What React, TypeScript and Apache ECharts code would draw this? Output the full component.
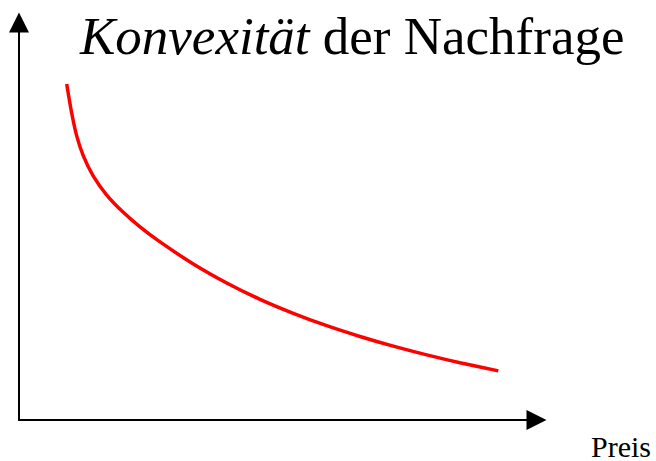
import React, { useEffect, useRef } from "react";
import * as echarts from "echarts";

// Demand curve (x: price units 0..100, y: quantity units 0..100)
const priceValues = [9.22, 10.18, 11.15, 12.43, 14.36, 16.95, 20.15, 23.38, 27.25, 33.68, 40.14, 46.57, 53.0, 59.46, 65.89, 72.33, 78.78, 85.22, 92.62];
const demandValues = [84.53, 77.23, 71.47, 66.44, 61.36, 56.6, 52.25, 48.6, 44.81, 39.25, 34.47, 30.36, 26.84, 23.72, 21.01, 18.57, 16.38, 14.42, 12.35];
const titleItalic = "Konvexität";
const titleRest = " der Nachfrage";
const xAxisLabel = "Preis";

const SERIF = "'Liberation Serif', 'Times New Roman', serif";
const ARROW = "path://M5,0 L10,10 L0,10 Z";

export default function App() {
  const ref = useRef<HTMLDivElement>(null);
  useEffect(() => {
    if (!ref.current) return;
    const chart = echarts.init(ref.current, undefined, { renderer: "svg" });
    const data = priceValues.map((x, i) => [x, demandValues[i]]);
    const axisCommon = {
      type: "value" as const,
      min: 0,
      max: 100,
      axisLine: {
        show: true,
        symbol: ["none", ARROW],
        symbolSize: [20, 21],
        lineStyle: { color: "#000", width: 2 },
      },
      axisTick: { show: false },
      axisLabel: { show: false },
      splitLine: { show: false },
    };
    chart.setOption({
      animation: false,
      backgroundColor: "#fff",
      title: {
        text: `{i|${titleItalic}}{r|${titleRest}}`,
        left: 80,
        top: 6,
        padding: 0,
        textStyle: {
          fontFamily: SERIF,
          fontSize: 53,
          fontWeight: "normal",
          color: "#000",
          lineHeight: 60,
          rich: {
            i: { fontStyle: "italic", fontFamily: SERIF, fontSize: 53, color: "#000", lineHeight: 60 },
            r: { fontStyle: "normal", fontFamily: SERIF, fontSize: 53, color: "#000", lineHeight: 60 },
          },
        },
      },
      grid: { left: 19, right: 119.5, top: 22.5, bottom: 41, containLabel: false, outerBoundsMode: "none" },
      xAxis: { ...axisCommon },
      yAxis: { ...axisCommon },
      graphic: [
        {
          type: "text",
          x: 591,
          y: 446,
          style: {
            text: xAxisLabel,
            fontFamily: SERIF,
            fontSize: 30,
            lineHeight: 24,
            fill: "#000",
            align: "left",
            verticalAlign: "middle",
          },
        },
      ],
      series: [
        {
          type: "line",
          data,
          smooth: 0.3,
          showSymbol: false,
          lineStyle: { color: "#ff0000", width: 3.5 },
          itemStyle: { color: "#ff0000" },
        },
      ],
    });
    return () => chart.dispose();
  }, []);
  return <div ref={ref} style={{ position: "fixed", left: 0, top: 0, width: 656, height: 461 }} />;
}
